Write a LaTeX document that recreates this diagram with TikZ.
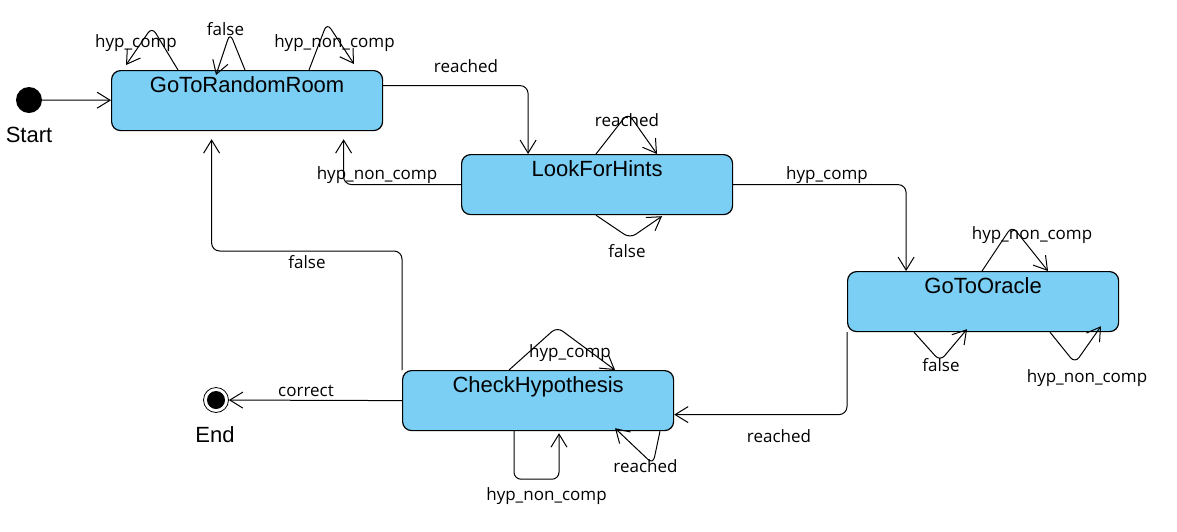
\documentclass[tikz,border=0pt]{standalone}
\usepackage{fontspec}
\setmainfont{Liberation Sans}
\newfontfamily\lblfont{Open Sans}
\usetikzlibrary{arrows.meta}
\definecolor{celeste}{HTML}{7BCEF4}

\begin{document}
\begin{tikzpicture}[x=1pt,y=-1pt,
  statebox/.style={draw,line width=1.2pt,rounded corners=9pt,fill=celeste,minimum width=271pt,minimum height=60pt,inner sep=0pt,text height=22pt,text depth=38pt,anchor=north west,font=\fontsize{22}{26}\selectfont},
  arr/.style={-{Straight Barb[length=13pt,width=16pt]},line width=1pt},
  loop/.style={arr,rounded corners=7pt},
  lbl/.style={font=\lblfont\fontsize{17}{20}\selectfont,anchor=base,inner sep=0pt},
  big/.style={font=\fontsize{22}{26}\selectfont,anchor=base,inner sep=0pt}]
\useasboundingbox (0,0) rectangle (1177,531);
% states
\node[statebox] (rr) at (111,70) {GoToRandomRoom};
\node[statebox] (lfh) at (461,154) {LookForHints};
\node[statebox] (go) at (847,271) {GoToOracle};
\node[statebox] (ch) at (402,370) {CheckHypothesis};
% start and end
\node[circle,fill,minimum size=26pt,inner sep=0pt] (start) at (29,100) {};
\node[big] (startlbl) at (29,142) {Start};
\node[circle,draw,line width=0.8pt,minimum size=25pt,inner sep=0pt] (fin) at (216,400) {};
\node[circle,fill,minimum size=18pt,inner sep=0pt] (findot) at (fin) {};
\node[big] (finlbl) at (215,442) {End};
% transitions
\draw[arr] (start) -- (rr);
\draw[arr,rounded corners=8pt] ([yshift=15pt]rr.east) -| ([xshift=-69pt]lfh.north);
\draw[arr,rounded corners=8pt] (lfh.west) -| ([xshift=96.5pt,yshift=-8pt]rr.south);
\draw[arr,rounded corners=8pt] (lfh.east) -| ([xshift=-77pt]go.north);
\draw[arr,rounded corners=8pt] (go.south west) |- ([yshift=-14pt]ch.east);
\draw[arr] (ch.west) -- (fin);
\draw[arr,rounded corners=8pt] (ch.north west) -- ++(0,-119) -| ([xshift=-35.5pt,yshift=-8pt]rr.south);
% self loops
\draw[loop] ([xshift=67pt]rr.north west) -- ++(-26,-43) -- ++(-26,38);
\draw[loop] ([xshift=134pt]rr.north west) -- ++(-15,-37) -- ++(-14,42);
\draw[loop] ([xshift=198pt]rr.north west) -- ++(18,-47) -- ++(27,41);
\draw[loop] ([xshift=135pt]lfh.north west) -- ++(32,-41) -- ++(29,41);
\draw[loop] ([xshift=135pt]lfh.south west) -- ++(34,23) -- ++(32,-22);
\draw[loop] ([xshift=135pt]go.north west) -- ++(30,-45) -- ++(36,45);
\draw[loop] ([xshift=67pt]go.south west) -- ++(26,29) -- ++(27,-32);
\draw[loop] ([xshift=203pt]go.south west) -- ++(25,31) -- ++(26,-37);
\draw[loop] ([xshift=107pt]ch.north west) -- ++(48,-43) -- ++(58,43);
\draw[loop] ([xshift=112pt]ch.south west) -- ++(0,48) -- ++(45,0) -- ++(0,-46);
\draw[loop] ([xshift=258pt]ch.south west) -- ++(-7,33) -- ++(-38,-36);
% labels
\node[lbl] (l1) at (136,47) {hyp\_comp};
\node[lbl] (l2) at (225.5,35) {false};
\node[lbl] (l3) at (334.5,47) {hyp\_non\_comp};
\node[lbl] (l4) at (466,72) {reached};
\node[lbl] (l5) at (377,179) {hyp\_non\_comp};
\node[lbl] (l6) at (627,126) {reached};
\node[lbl] (l7) at (627,257) {false};
\node[lbl] (l8) at (827,179) {hyp\_comp};
\node[lbl] (l9) at (1032,239) {hyp\_non\_comp};
\node[lbl] (l10) at (941,371) {false};
\node[lbl] (l11) at (1087,382) {hyp\_non\_comp};
\node[lbl] (l12) at (570,357) {hyp\_comp};
\node[lbl] (l13) at (306,396) {correct};
\node[lbl] (l14) at (546.5,500) {hyp\_non\_comp};
\node[lbl] (l15) at (645.5,472) {reached};
\node[lbl] (l16) at (307,268) {false};
\node[lbl] (l17) at (779,442) {reached};
\end{tikzpicture}
\end{document}
